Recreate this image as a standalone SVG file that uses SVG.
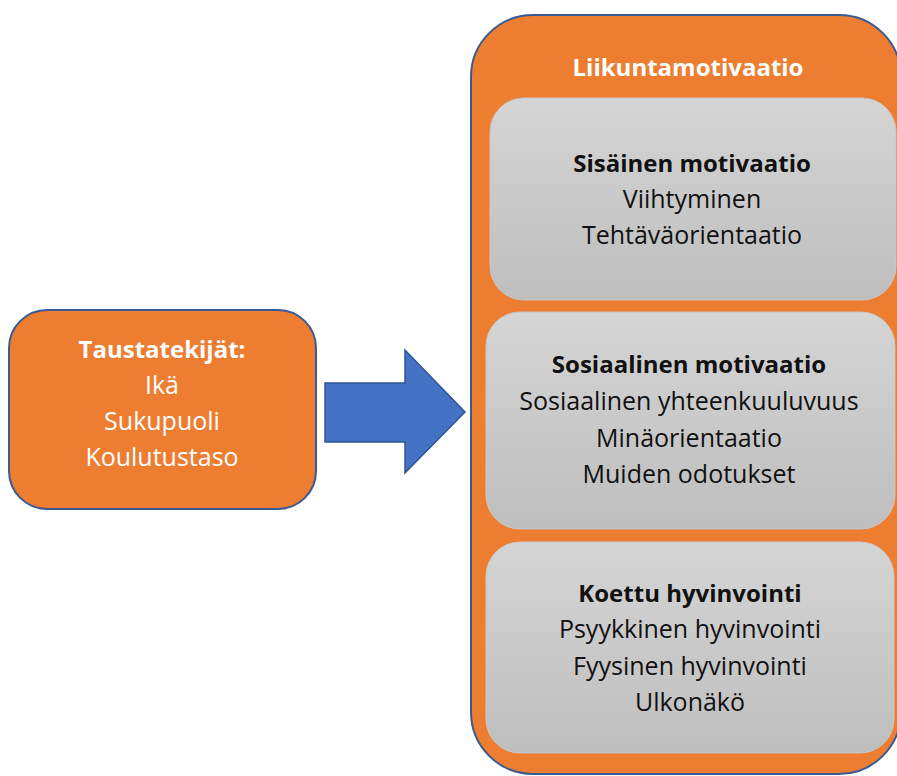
<svg xmlns="http://www.w3.org/2000/svg" width="897" height="776" viewBox="0 0 897 776">
<defs>
<linearGradient id="gray" x1="0" y1="0" x2="0" y2="1">
<stop offset="0" stop-color="#D5D5D5"/>
<stop offset="1" stop-color="#BEBEBE"/>
</linearGradient>
</defs>
<style>
.orange{fill:#ED7D31;stroke:#3A5A94;stroke-width:2}
.inner{fill:url(#gray);stroke:#C8C8C8;stroke-width:1}
text{font-family:"Open Sans","Liberation Sans",sans-serif;font-size:25px;text-anchor:middle}
.w{fill:#FFFFFF}
.k{fill:#111111}
.b{font-weight:bold;font-size:24px}
.arrow{fill:#4472C4;stroke:#2F5597;stroke-width:1.5}
</style>
<rect width="897" height="776" fill="#FFFFFF"/>
<g id="taustatekijat">
<rect class="orange" x="9" y="310" width="307" height="199" rx="38"/>
<text class="w b" x="162" y="358">Taustatekijät:</text>
<text class="w" x="162" y="394">Ikä</text>
<text class="w" x="162" y="430">Sukupuoli</text>
<text class="w" x="162" y="466">Koulutustaso</text>
</g>
<g id="connectors">
<polygon class="arrow" points="325,383 405,383 405,350 465,412 405,473 405,442 325,442"/>
</g>
<g id="liikuntamotivaatio">
<rect class="orange" x="471" y="15" width="430" height="759" rx="62"/>
<text class="w b" x="688" y="76">Liikuntamotivaatio</text>
</g>
<g id="sisainen">
<rect class="inner" x="490" y="98" width="406" height="202" rx="34"/>
<text class="k b" x="692" y="172">Sisäinen motivaatio</text>
<text class="k" x="692" y="208">Viihtyminen</text>
<text class="k" x="692" y="244">Tehtäväorientaatio</text>
</g>
<g id="sosiaalinen">
<rect class="inner" x="486" y="312" width="409" height="217" rx="34"/>
<text class="k b" x="689" y="373">Sosiaalinen motivaatio</text>
<text class="k" x="689" y="410">Sosiaalinen yhteenkuuluvuus</text>
<text class="k" x="689" y="447">Minäorientaatio</text>
<text class="k" x="689" y="483">Muiden odotukset</text>
</g>
<g id="koettu">
<rect class="inner" x="486" y="542" width="408" height="211" rx="34"/>
<text class="k b" x="690" y="602">Koettu hyvinvointi</text>
<text class="k" x="690" y="638">Psyykkinen hyvinvointi</text>
<text class="k" x="690" y="675">Fyysinen hyvinvointi</text>
<text class="k" x="690" y="711">Ulkonäkö</text>
</g>
</svg>
